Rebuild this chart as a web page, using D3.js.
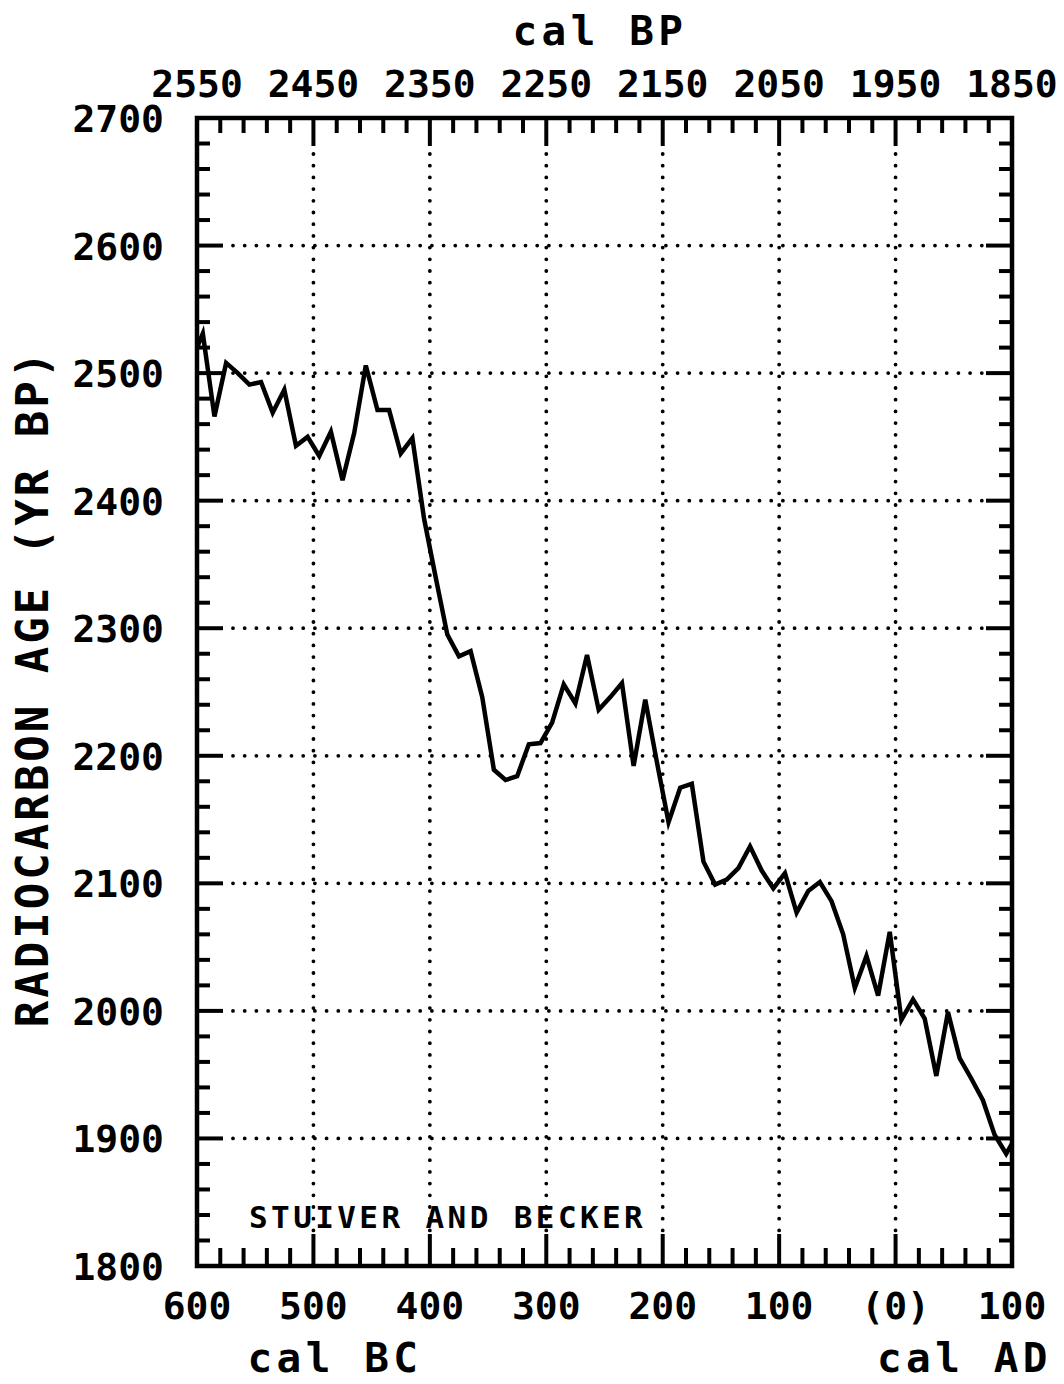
<!DOCTYPE html>
<html>
<head>
<meta charset="utf-8">
<script src="https://cdn.jsdelivr.net/npm/d3@7"></script>
<style>
  body { margin: 0; background: #fff; }
  text { font-family: "DejaVu Sans Mono", monospace; font-weight: bold; fill: #000; }
</style>
</head>
<body>
<div id="chart"></div>
<script>
// calendar year (negative = BC), radiocarbon age in yr BP
const years = [-600, -595, -585, -575, -565, -555, -545, -535, -525, -515, -505, -495, -485, -475,
  -465, -455, -445, -435, -425, -415, -405, -395, -385, -375, -365, -355, -345, -335, -325, -315,
  -305, -295, -285, -275, -265, -255, -245, -235, -225, -215, -205, -195, -185, -175, -165, -155,
  -145, -135, -125, -115, -105, -95, -85, -75, -65, -55, -45, -35, -25, -15, -5, 5, 15, 25, 35,
  45, 55, 65, 75, 85, 95, 100];
const ages = [2520, 2531, 2466, 2508, 2500, 2491, 2493, 2469, 2487, 2443, 2450, 2435, 2454, 2416,
  2453, 2506, 2471, 2471, 2437, 2449, 2386, 2340, 2295, 2278, 2282, 2246, 2189, 2181, 2184, 2209,
  2210, 2226, 2256, 2241, 2279, 2236, 2246, 2257, 2192, 2244, 2195, 2148, 2175, 2178, 2117, 2099,
  2103, 2112, 2129, 2110, 2096, 2108, 2077, 2094, 2101, 2086, 2060, 2018, 2043, 2012, 2062, 1993,
  2009, 1994, 1949, 1999, 1963, 1947, 1930, 1903, 1888, 1896];

const bottomTicks = [-600, -500, -400, -300, -200, -100, 0, 100];
const bottomLabels = ["600", "500", "400", "300", "200", "100", "(0)", "100"];
const topTicks = [2550, 2450, 2350, 2250, 2150, 2050, 1950, 1850];
const ageTicks = [2700, 2600, 2500, 2400, 2300, 2200, 2100, 2000, 1900, 1800];

const margin = { top: 118, right: 52, bottom: 118, left: 197 };
const width = 1064 - margin.left - margin.right;
const height = 1384 - margin.top - margin.bottom;

const x = d3.scaleLinear().domain([-600, 100]).range([0, width]);
const xTop = d3.scaleLinear().domain([2550, 1850]).range([0, width]);
const y = d3.scaleLinear().domain([1800, 2700]).range([height, 0]);

const svgRoot = d3.select("#chart").append("svg")
  .attr("width", 1064)
  .attr("height", 1384);

const svg = svgRoot.append("g")
  .attr("transform", "translate(" + margin.left + "," + margin.top + ")");

const xMajor = 28, xMinor = 15, yMajor = 26, yMinor = 13;

// dotted grid
const dots = "0,11.7";
svg.append("g").selectAll("line")
  .data(bottomTicks.slice(1, -1))
  .enter().append("line")
  .attr("x1", d => x(d)).attr("x2", d => x(d))
  .attr("y1", xMajor + 8).attr("y2", height - xMajor - 4)
  .attr("stroke", "#000").attr("stroke-width", 3.8)
  .attr("stroke-linecap", "round").attr("stroke-dasharray", dots);

svg.append("g").selectAll("line")
  .data(ageTicks.slice(1, -1))
  .enter().append("line")
  .attr("x1", yMajor + 10).attr("x2", width - yMajor - 4)
  .attr("y1", d => y(d)).attr("y2", d => y(d))
  .attr("stroke", "#000").attr("stroke-width", 3.8)
  .attr("stroke-linecap", "round").attr("stroke-dasharray", dots);

// ticks on all four sides
const tickStyle = sel => sel.attr("stroke", "#000").attr("stroke-width", 4);

const xMinorVals = d3.range(-600, 101, 20);
svg.append("g").selectAll("line")
  .data(xMinorVals)
  .enter().append("line")
  .attr("x1", d => x(d)).attr("x2", d => x(d))
  .attr("y1", height).attr("y2", d => height - ((d + 600) % 100 === 0 ? xMajor + 4 : xMinor + 3))
  .call(tickStyle);

svg.append("g").selectAll("line")
  .data(d3.range(2550, 1849, -20))
  .enter().append("line")
  .attr("x1", d => xTop(d)).attr("x2", d => xTop(d))
  .attr("y1", 0).attr("y2", d => ((2550 - d) % 100 === 0 ? xMajor : xMinor))
  .call(tickStyle);

const yMinorVals = d3.range(1800, 2701, 20);
[0, width].forEach(edge => {
  const dir = edge === 0 ? 1 : -1;
  svg.append("g").selectAll("line")
    .data(yMinorVals)
    .enter().append("line")
    .attr("x1", edge)
    .attr("x2", d => edge + dir * (d % 100 === 0 ? yMajor : yMinor))
    .attr("y1", d => y(d)).attr("y2", d => y(d))
    .call(tickStyle);
});

// frame
svg.append("rect")
  .attr("x", 0).attr("y", 0)
  .attr("width", width).attr("height", height)
  .attr("fill", "none").attr("stroke", "#000").attr("stroke-width", 4.5);

// tick labels
svg.append("g").selectAll("text")
  .data(bottomTicks)
  .enter().append("text")
  .attr("x", d => x(d)).attr("y", height + 53)
  .attr("text-anchor", "middle")
  .style("font-size", "38px")
  .text((d, i) => bottomLabels[i]);

svg.append("g").selectAll("text")
  .data(topTicks)
  .enter().append("text")
  .attr("x", d => xTop(d)).attr("y", -21)
  .attr("text-anchor", "middle")
  .style("font-size", "38px")
  .text(d => d);

svg.append("g").selectAll("text")
  .data(ageTicks)
  .enter().append("text")
  .attr("x", -33).attr("y", d => y(d) + 14)
  .attr("text-anchor", "end")
  .style("font-size", "38px")
  .text(d => d);

// axis titles
svgRoot.append("text")
  .attr("x", 600).attr("y", 45)
  .attr("text-anchor", "middle")
  .style("font-size", "41px").style("letter-spacing", "4.5px")
  .text("cal BP");

svgRoot.append("text")
  .attr("x", 335).attr("y", 1372)
  .attr("text-anchor", "middle")
  .style("font-size", "41px").style("letter-spacing", "4.5px")
  .text("cal BC");

svgRoot.append("text")
  .attr("x", 1052).attr("y", 1372)
  .attr("text-anchor", "end")
  .style("font-size", "41px").style("letter-spacing", "4.5px")
  .text("cal AD");

svgRoot.append("text")
  .attr("transform", "translate(48,688) rotate(-90)")
  .attr("text-anchor", "middle")
  .style("font-size", "44px").style("letter-spacing", "3px")
  .text("RADIOCARBON AGE (YR BP)");

svg.append("text")
  .attr("x", 52).attr("y", height - 38)
  .style("font-size", "31px").style("letter-spacing", "3.4px")
  .text("STUIVER AND BECKER");

// calibration curve
const line = d3.line()
  .x((d, i) => x(years[i]))
  .y(d => y(d));

svg.append("path")
  .datum(ages)
  .attr("fill", "none")
  .attr("stroke", "#000")
  .attr("stroke-width", 4.5)
  .attr("stroke-linejoin", "miter")
  .attr("d", line);
</script>
</body>
</html>
